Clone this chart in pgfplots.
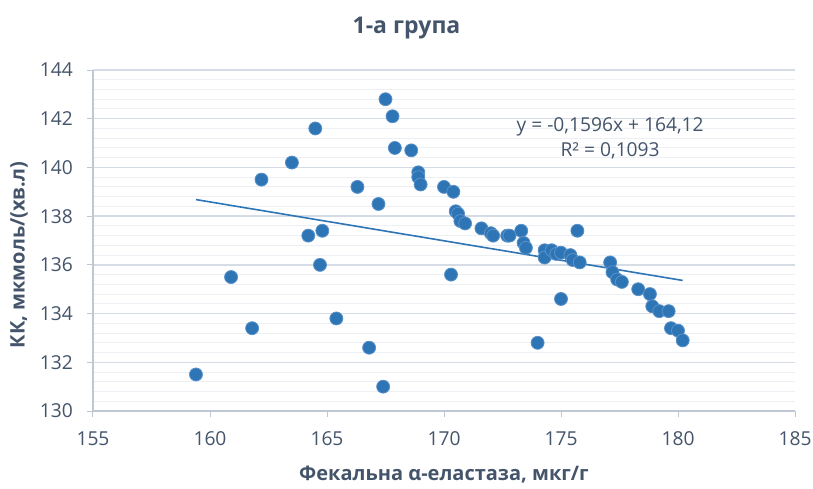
\documentclass[border=0pt]{standalone}
\usepackage{fontspec}
\setmainfont{Open Sans}
\usepackage{pgfplots}
\pgfplotsset{compat=1.18}
\definecolor{txt}{RGB}{68,84,106}
\definecolor{mk}{RGB}{46,117,182}
\definecolor{mkedge}{RGB}{90,145,200}
\definecolor{gmaj}{RGB}{214,220,229}
\definecolor{gmin}{RGB}{236,239,244}
\definecolor{axl}{RGB}{191,199,211}
\pgfplotstableread{
x y
159.4 131.5
160.9 135.5
161.8 133.4
162.2 139.5
163.5 140.2
164.2 137.2
164.5 141.6
164.8 137.4
164.7 136.0
165.4 133.8
166.3 139.2
166.8 132.6
167.2 138.5
167.4 131.0
167.5 142.8
167.8 142.1
167.9 140.8
168.6 140.7
168.9 139.8
168.9 139.6
169.0 139.3
170.0 139.2
170.4 139.0
170.3 135.6
170.5 138.2
170.6 138.1
170.7 137.8
170.9 137.7
171.6 137.5
172.0 137.3
172.1 137.2
172.7 137.2
172.8 137.2
173.3 137.4
173.4 136.9
173.5 136.7
174.0 132.8
174.3 136.6
174.3 136.3
174.6 136.6
174.8 136.45
175.0 136.5
175.0 134.6
175.4 136.4
175.5 136.2
175.8 136.1
175.7 137.4
177.1 136.1
177.2 135.7
177.4 135.4
177.6 135.3
178.3 135.0
178.8 134.8
178.9 134.3
179.2 134.1
179.6 134.1
179.7 133.4
180.0 133.3
180.2 132.9
}\datatable
\begin{document}
\begin{tikzpicture}
\path[use as bounding box] (-46.5pt,-38.5pt) rectangle (360pt,205.5pt);
\node[font=\bfseries\fontsize{11.5}{13}\selectfont, text=txt] at (156.75pt,191.5pt) {1-а група};
\begin{axis}[
  at={(0pt,0pt)}, anchor=south west,
  scale only axis, width=351pt, height=170.5pt,
  xmin=155, xmax=185, ymin=130, ymax=144,
  xtick distance=5, ytick distance=2, minor y tick num=4,
  ymajorgrids, yminorgrids,
  major grid style={draw=gmaj, line width=0.7pt},
  minor grid style={draw=gmin, line width=0.5pt},
  axis lines=left, axis line style={-, draw=axl, line width=0.6pt},
  tick align=outside, major tick length=3pt, minor tick length=0pt,
  tick style={draw=axl, line width=0.5pt},
  ticklabel style={font=\fontsize{9.6}{11}\selectfont, text=txt},
  xticklabel style={yshift=-4pt},
  yticklabel style={xshift=-3.5pt},
  /pgf/number format/assume math mode=true,
  xlabel={Фекальна α-еластаза, мкг/г},
  ylabel={КК, мкмоль/(хв.л)},
  label style={font=\bfseries\fontsize{10}{12}\selectfont, text=txt},
  xlabel style={at={(axis description cs:0.5,0)}, anchor=center, yshift=-32pt},
  ylabel style={at={(axis description cs:0,0.4575)}, anchor=center, yshift=37pt},
  clip=false,
]
\addplot[draw=mk, line width=0.8pt] coordinates {(159.4,138.68) (180.2,135.36)};
\addplot[only marks, mark=*, mark size=3.25pt, mark options={fill=mk, draw=mkedge, line width=0.4pt}] table[x=x,y=y] {\datatable};
\node[font=\fontsize{9.6}{12.5}\selectfont, text=txt, align=center] at (axis cs:177.1,141.2) {y = -0,1596x + 164,12\\R² = 0,1093};
\end{axis}
\end{tikzpicture}
\end{document}
